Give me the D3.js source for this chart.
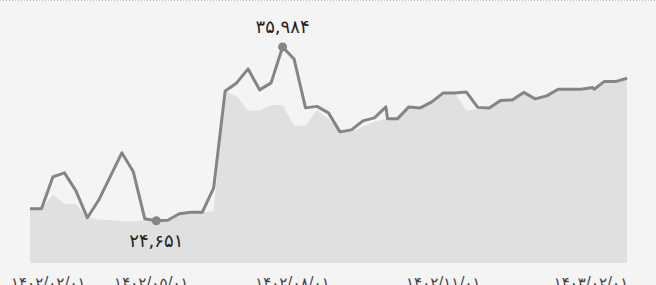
<!DOCTYPE html>
<html>
<head>
<meta charset="utf-8">
<script src="https://cdn.jsdelivr.net/npm/d3@7"></script>
<style>
  body { margin: 0; background: #f4f4f4; }
  svg { display: block; }
</style>
</head>
<body>
<svg width="656" height="285"></svg>
<script>
// days since first point (weekly, two extra points)
var days = [0, 7, 14, 21, 28, 35, 42, 49, 56, 63, 70, 77, 84, 91, 98, 105, 112, 119, 126, 133,
  140, 147, 154, 161, 168, 175, 182, 189, 196, 203, 210, 217, 218, 224, 231, 238, 245, 252, 259, 266,
  273, 280, 287, 294, 301, 308, 315, 322, 329, 336, 343, 344, 350, 357, 364];

var priceLine = [25433, 25433, 27517, 27778, 26605, 24847, 26019, 27550, 29080, 27843,
  24782, 24651, 24684, 25107, 25205, 25205, 26801, 33118, 33639, 34551,
  33183, 33639, 35984, 35202, 32011, 32109, 31685, 30448, 30578, 31164,
  31360, 32076, 31295, 31295, 32076, 32011, 32402, 32988, 32988, 33053,
  32044, 32011, 32500, 32532, 33021, 32597, 32793, 33229, 33229, 33229,
  33333, 33229, 33724, 33724, 33945];

var priceArea = [25433, 25433, 26345, 25759, 25759, 24880, 24717, 24684, 24620, 24600,
  24700, 24651, 24684, 25107, 25205, 25205, 25280, 33118, 32747, 31835,
  31835, 32206, 32206, 30839, 30839, 31881, 31300, 30448, 30450, 30800,
  31100, 31295, 31295, 31295, 32076, 32011, 32402, 32988, 32988, 31835,
  31926, 32011, 32500, 32532, 33021, 32597, 32793, 33229, 33229, 33229,
  33333, 33229, 33724, 33724, 33945];

var tickDays = [-23, 74, 160, 252, 342];
var tickLabels = ["۱۴۰۲/۰۲/۰۱", "۱۴۰۲/۰۵/۰۱", "۱۴۰۲/۰۸/۰۱", "۱۴۰۲/۱۱/۰۱", "۱۴۰۳/۰۲/۰۱"];

var svg = d3.select("svg"),
    width = +svg.attr("width"),
    height = +svg.attr("height");

var x = d3.scaleLinear().domain([0, 364]).range([30, 627]);
var y = d3.scaleLinear().domain([21900, 38000]).range([263, 16]);

function persian(s) {
  return s.replace(/[0-9]/g, function(c) { return "۰۱۲۳۴۵۶۷۸۹"[+c]; });
}
var fmt = function(v) { return persian(d3.format(",")(v)); };

var data = days.map(function(d, i) {
  return { day: d, line: priceLine[i], area: priceArea[i] };
});

// dotted top border
svg.append("line")
  .attr("x1", 0).attr("x2", width)
  .attr("y1", 0.5).attr("y2", 0.5)
  .attr("stroke", "#bdbdbd")
  .attr("stroke-dasharray", "1,2");

var area = d3.area()
  .x(function(d) { return x(d.day); })
  .y0(y(21900))
  .y1(function(d) { return y(d.area); });

svg.append("path")
  .datum(data)
  .attr("d", area)
  .attr("fill", "#e0e0e0");

var line = d3.line()
  .x(function(d) { return x(d.day); })
  .y(function(d) { return y(d.line); });

svg.append("path")
  .datum(data)
  .attr("d", line)
  .attr("fill", "none")
  .attr("stroke", "#858585")
  .attr("stroke-width", 3)
  .attr("stroke-linejoin", "round");

// min / max markers
var iMax = d3.maxIndex(priceLine), iMin = d3.minIndex(priceLine);
[[iMax, -14], [iMin, 26]].forEach(function(m) {
  var d = data[m[0]];
  svg.append("circle")
    .attr("cx", x(d.day)).attr("cy", y(d.line))
    .attr("r", 4.5).attr("fill", "#858585");
  svg.append("text")
    .attr("x", x(d.day)).attr("y", y(d.line) + m[1])
    .attr("text-anchor", "middle")
    .style("font-family", "DejaVu Sans, sans-serif")
    .style("font-size", "18px")
    .style("fill", "#222")
    .text(fmt(d.line));
});

// x axis labels (cut by the bottom edge, as in the original)
var ticks = svg.append("g").selectAll("text")
  .data(tickDays)
  .enter().append("text")
  .attr("x", function(d) { return x(d); })
  .attr("y", 288)
  .attr("text-anchor", "middle")
  .style("font-family", "DejaVu Sans, sans-serif")
  .style("font-size", "15px")
  .style("fill", "#444")
  .text(function(d, i) { return tickLabels[i]; });

// keep first label inside the chart
ticks.each(function() {
  var b = this.getBBox();
  if (b.x < 11) d3.select(this).attr("x", +d3.select(this).attr("x") + (11 - b.x));
});
</script>
</body>
</html>
